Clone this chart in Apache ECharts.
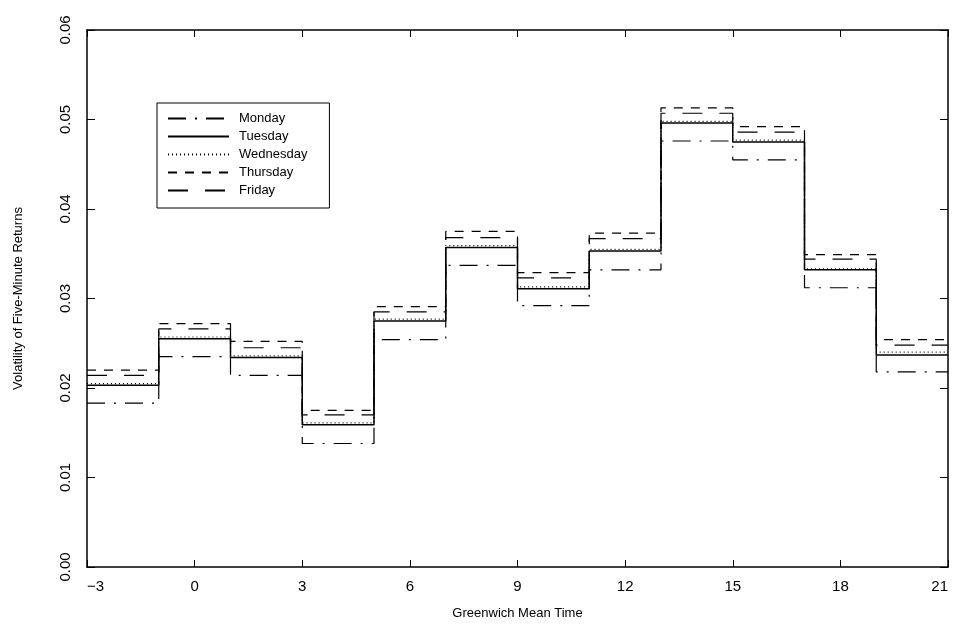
<!DOCTYPE html>
<html>
<head>
<meta charset="utf-8">
<script src="https://cdn.jsdelivr.net/npm/echarts@6/dist/echarts.min.js"></script>
<style>html,body{margin:0;padding:0;background:#fff;}#c{width:959px;height:640px;}</style>
</head>
<body>
<div id="c"></div>
<script>
// Interval start hours (GMT); each value holds until the next start; the last ends at 21
const starts = [-3, -1, 1, 3, 5, 7, 9, 11, 13, 15, 17, 19];
const endHour = 21;
const days = ['Monday', 'Tuesday', 'Wednesday', 'Thursday', 'Friday'];
const monday    = [0.0183, 0.0235, 0.0214, 0.0138, 0.0254, 0.0337, 0.0292, 0.0332, 0.0476, 0.0455, 0.0312, 0.0218];
const tuesday   = [0.0203, 0.0255, 0.0234, 0.0159, 0.0275, 0.0357, 0.0311, 0.0353, 0.0496, 0.0475, 0.0332, 0.0237];
const wednesday = [0.0205, 0.0257, 0.0236, 0.0161, 0.0277, 0.0359, 0.0313, 0.0355, 0.0498, 0.0477, 0.0333, 0.0240];
const thursday  = [0.0220, 0.0272, 0.0252, 0.0175, 0.0291, 0.0375, 0.0329, 0.0373, 0.0513, 0.0492, 0.0349, 0.0254];
const friday    = [0.0214, 0.0266, 0.0245, 0.0170, 0.0285, 0.0368, 0.0323, 0.0367, 0.0507, 0.0486, 0.0344, 0.0248];
const xTicks = [-3, 0, 3, 6, 9, 12, 15, 18, 21];
const yTicks = [0.00, 0.01, 0.02, 0.03, 0.04, 0.05, 0.06];

const values = [monday, tuesday, wednesday, thursday, friday];
const dashes = [[18, 9, 2, 9], 'solid', [1, 3], [9, 8], [20, 17]];
const widths = [1.2, 1.5, 1.2, 1.2, 1.2];
const FONT = 'Liberation Sans';

function stepData(v) {
  const d = starts.map((s, i) => [s, v[i]]);
  d.push([endHour, v[v.length - 1]]);
  return d;
}

const series = days.map((name, i) => ({
  name: name,
  type: 'line',
  step: 'end',
  symbol: 'none',
  showSymbol: false,
  data: stepData(values[i]),
  lineStyle: { color: '#000', width: widths[i], type: dashes[i] },
  itemStyle: { color: '#000' },
  emphasis: { disabled: true },
  animation: false
}));

const axisLine = { show: true, onZero: false, lineStyle: { color: '#000', width: 1.5 } };
const chart = echarts.init(document.getElementById('c'), null, { renderer: 'canvas' });
chart.setOption({
  backgroundColor: '#fff',
  animation: false,
  textStyle: { fontFamily: FONT, color: '#000' },
  grid: { left: 87, right: 11, top: 30, bottom: 73, containLabel: false },
  legend: {
    orient: 'vertical',
    left: 157, top: 103,
    padding: [9, 22, 11, 10],
    itemGap: 5,
    itemWidth: 61, itemHeight: 14,
    borderColor: '#000', borderWidth: 1,
    data: days,
    itemStyle: { color: 'rgba(0,0,0,0)', borderWidth: 0, opacity: 0 },
    textStyle: { fontFamily: FONT, fontSize: 13, color: '#000', padding: [0, 0, 0, 5] }
  },
  xAxis: [{
    type: 'value', min: xTicks[0], max: xTicks[xTicks.length - 1], interval: 3,
    name: 'Greenwich Mean Time', nameLocation: 'middle', nameGap: 40,
    nameTextStyle: { fontFamily: FONT, fontSize: 13, color: '#000' },
    axisLine: axisLine,
    axisTick: { show: true, inside: true, length: 7, lineStyle: { color: '#000' } },
    axisLabel: { fontFamily: FONT, fontSize: 15, color: '#000', margin: 12,
      alignMinLabel: 'left', alignMaxLabel: 'right',
      customValues: xTicks, formatter: v => (v < 0 ? '\u2212' + Math.abs(v) : String(v)) },
    splitLine: { show: false }
  }, {
    type: 'value', position: 'top', min: xTicks[0], max: xTicks[xTicks.length - 1], interval: 3,
    axisLine: axisLine,
    axisTick: { show: true, inside: true, length: 7, lineStyle: { color: '#000' } },
    axisLabel: { show: false }, splitLine: { show: false }
  }],
  yAxis: [{
    type: 'value', min: yTicks[0], max: yTicks[yTicks.length - 1], interval: 0.01,
    name: 'Volatility of Five-Minute Returns', nameLocation: 'middle', nameGap: 62,
    nameTextStyle: { fontFamily: FONT, fontSize: 13, color: '#000' },
    axisLine: axisLine,
    axisTick: { show: true, inside: true, length: 8, lineStyle: { color: '#000' } },
    axisLabel: { fontFamily: FONT, fontSize: 15, color: '#000', rotate: 90, margin: 14,
      customValues: yTicks, formatter: v => v.toFixed(2) },
    splitLine: { show: false }
  }, {
    type: 'value', position: 'right', min: yTicks[0], max: yTicks[yTicks.length - 1], interval: 0.01,
    axisLine: axisLine,
    axisTick: { show: true, inside: true, length: 8, lineStyle: { color: '#000' } },
    axisLabel: { show: false }, splitLine: { show: false }
  }],
  series: series
});
</script>
</body>
</html>
